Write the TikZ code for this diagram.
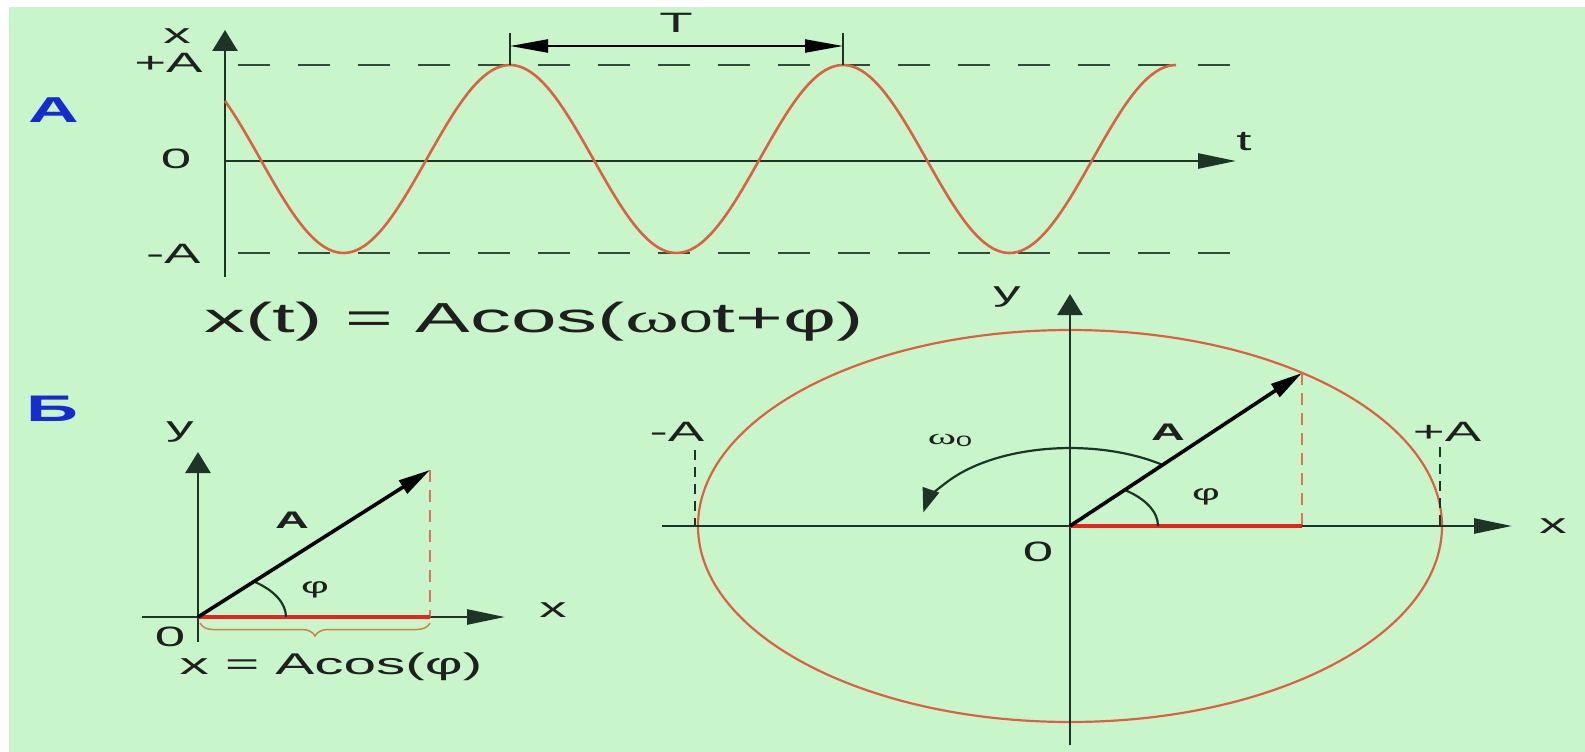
\documentclass[tikz,border=0pt]{standalone}
\usepackage{fontspec}
\setmainfont{Liberation Sans}
\newfontfamily\greekserif{Liberation Serif}
\usepackage[svgnames]{xcolor}
\usetikzlibrary{arrows.meta, decorations.pathreplacing}

\definecolor{bgGreen}{RGB}{200,246,202}
\definecolor{axisGreen}{RGB}{30,52,38}
\definecolor{waveRed}{RGB}{222,96,66}
\definecolor{projRed}{RGB}{228,36,30}
\definecolor{dashRed}{RGB}{228,112,92}
\definecolor{braceOrange}{RGB}{214,128,70}
\definecolor{panelBlue}{RGB}{20,44,210}

\tikzset{
	axisLine/.style={
		draw=axisGreen,
		line width=2.6pt},
	axisHoriz/.style={
		axisLine,
		-{Triangle[length=38pt,width=15pt]}},
	axisVert/.style={
		axisLine,
		-{Triangle[length=21pt,width=25pt]}},
	guideDash/.style={
		draw=axisGreen!90,
		line width=2.8pt,
		dash pattern=on 32pt off 28pt},
	limitDash/.style={
		draw=axisGreen,
		line width=2.2pt,
		dash pattern=on 10pt off 7pt},
	waveLine/.style={
		draw=waveRed,
		line width=2.6pt},
	vecArrow/.style={
		draw=black,
		line width=3.6pt,
		-{Triangle[length=32pt,width=15pt]}},
	projLine/.style={
		draw=projRed,
		line width=4pt},
	projDash/.style={
		draw=dashRed,
		line width=2.8pt,
		dash pattern=on 12pt off 8pt},
	angleArc/.style={
		draw=axisGreen,
		line width=2.2pt},
	rotArrow/.style={
		angleArc,
		-{Triangle[length=24pt,width=17pt]}},
	dimArrow/.style={
		draw=black,
		line width=2.2pt,
		{Triangle[length=38pt,width=13pt]}-{Triangle[length=38pt,width=13pt]}},
	braceLine/.style={
		draw=braceOrange,
		line width=1.5pt,
		decorate,
		decoration={brace, mirror, amplitude=13pt}},
	lbl/.style={
		font=\fontsize{28}{30}\selectfont,
		text=black!88,
		inner sep=0pt,
		xscale=1.95},
	greekLbl/.style={
		lbl,
		font=\fontsize{22}{24}\selectfont},
	vecLbl/.style={
		lbl,
		font=\fontsize{24}{26}\selectfont\bfseries},
	panelLbl/.style={
		lbl,
		font=\fontsize{36}{38}\selectfont\bfseries,
		text=panelBlue},
	formulaLbl/.style={
		lbl,
		font=\fontsize{42}{44}\selectfont},
}

\begin{document}
\begin{tikzpicture}[x=1pt, y=-1pt]
	\useasboundingbox (0,0) rectangle (1585,752);
	% background
	\fill[white] (-5,-5) rectangle (1600,770);
	\fill[bgGreen] (9,7) rectangle (1600,770);

	% panel A: oscillation in time
	\coordinate (waveOrigin) at (225,161);
	\coordinate (waveYBottom) at (225,277);
	\coordinate (waveYTop) at (225,30);
	\coordinate (waveTEnd) at (1236,161);
	\coordinate (plusStart) at (238,65);
	\coordinate (plusEnd) at (1236,65);
	\coordinate (minusStart) at (238,253);
	\coordinate (minusEnd) at (1236,253);
	\draw [guideDash] (plusStart) -- (plusEnd);
	\draw [guideDash] (minusStart) -- (minusEnd);
	\draw [axisVert] (waveYBottom) -- (waveYTop);
	\draw [axisHoriz] (waveOrigin) -- (waveTEnd);
	\draw [waveLine] plot [domain=225:1176, samples=240] (\x, {159-94*cos(1.08108*(\x-510))});

	% period T
	\coordinate (peakOne) at (510,65);
	\coordinate (peakTwo) at (843,65);
	\coordinate (tickOneTop) at (510,33);
	\coordinate (tickTwoTop) at (843,33);
	\coordinate (periodLeft) at (510,46);
	\coordinate (periodRight) at (843,46);
	\draw [axisLine] (peakOne) -- (tickOneTop);
	\draw [axisLine] (peakTwo) -- (tickTwoTop);
	\draw [dimArrow] (periodLeft) -- (periodRight);
	\node [lbl] (periodText) at (676,23) {T};

	% panel A labels
	\node [panelLbl] (panelA) at (54,110) {A};
	\node [lbl] (waveXName) at (177,36) {x};
	\node [lbl, anchor=east] (wavePlusA) at (203,63) {+A};
	\node [lbl] (waveZero) at (176,159) {0};
	\node [lbl, anchor=east] (waveMinusA) at (201,254) {-A};
	\node [lbl] (waveTName) at (1244,142) {t};
	\node [formulaLbl] (formulaMain) at (534,322) {x(t) = Acos({\greekserif ω}{\fontsize{31}{33}\selectfont 0}t+φ)};

	% panel B left: projection of the vector
	\node [panelLbl, font=\fontsize{37}{39}\selectfont\bfseries] (panelB) at (52,409) {Б};
	\coordinate (leftO) at (198,617);
	\coordinate (leftTip) at (430,470);
	\coordinate (leftFoot) at (430,617);
	\coordinate (leftYBottom) at (198,642);
	\coordinate (leftYTop) at (198,452);
	\coordinate (leftXStart) at (142,617);
	\coordinate (leftXEnd) at (505,617);
	\coordinate (braceStart) at (200,623);
	\coordinate (braceEnd) at (430,623);
	\draw [axisVert] (leftYBottom) -- (leftYTop);
	\draw [axisHoriz] (leftXStart) -- (leftXEnd);
	\draw [projDash] (leftTip) -- (leftFoot);
	\draw [projLine] (leftO) -- (leftFoot);
	\draw [angleArc] (286,617) arc [start angle=0, end angle=-50.5, x radius=88, y radius=46];
	\draw [vecArrow] (leftO) -- (leftTip);
	\draw [braceLine] (braceStart) -- (braceEnd);
	\node [lbl] (leftYName) at (180,432) {y};
	\node [lbl] (leftXName) at (553,610) {x};
	\node [lbl] (leftZero) at (170,637) {0};
	\node [vecLbl] (leftVecName) at (292,520) {A};
	\node [greekLbl] (leftPhi) at (315,590) {φ};
	\node [lbl, font=\fontsize{30}{32}\selectfont] (leftFormula) at (331,667) {x = Acos(φ)};

	% panel B right: rotating vector
	\coordinate (circO) at (1070,526);
	\coordinate (circTip) at (1302,373);
	\coordinate (circFoot) at (1302,526);
	\coordinate (circYBottom) at (1070,745);
	\coordinate (circYTop) at (1070,294);
	\coordinate (circXStart) at (662,526);
	\coordinate (circXEnd) at (1512,526);
	\coordinate (leftLimitTop) at (695,450);
	\coordinate (leftLimitBase) at (695,526);
	\coordinate (rightLimitTop) at (1440,447);
	\coordinate (rightLimitBase) at (1440,526);
	\draw [waveLine, line width=2.2pt] (circO) ellipse [x radius=372, y radius=196];
	\draw [limitDash] (leftLimitTop) -- (leftLimitBase);
	\draw [limitDash] (rightLimitTop) -- (rightLimitBase);
	\draw [axisVert] (circYBottom) -- (circYTop);
	\draw [axisHoriz] (circXStart) -- (circXEnd);
	\draw [projDash] (circTip) -- (circFoot);
	\draw [projLine] (circO) -- (circFoot);
	\draw [angleArc] (1158,526) arc [start angle=0, end angle=-51.5, x radius=88, y radius=46];
	\draw [rotArrow] (1162.8,465) arc [start angle=-51.5, end angle=-170, x radius=149, y radius=78];
	\draw [vecArrow] (circO) -- (circTip);
	\node [lbl] (circYName) at (1007,297) {y};
	\node [lbl] (circXName) at (1553,526) {x};
	\node [lbl] (circZero) at (1038,552) {0};
	\node [vecLbl] (circVecName) at (1168,432) {A};
	\node [greekLbl] (circPhi) at (1206,497) {φ};
	\node [greekLbl] (circOmega) at (950,440) {{\greekserif ω}\raisebox{-2pt}{\fontsize{15}{17}\selectfont 0}};
	\node [lbl] (circMinusA) at (677,432) {-A};
	\node [lbl] (circPlusA) at (1447,432) {+A};
\end{tikzpicture}
\end{document}
